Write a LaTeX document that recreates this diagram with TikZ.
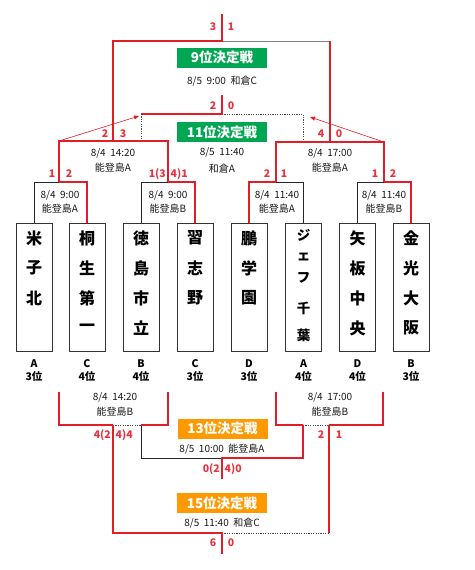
\documentclass[tikz,border=0pt]{standalone}
\usepackage{fontspec}
\setmainfont{Noto Sans CJK JP}
\usetikzlibrary{arrows.meta}
\definecolor{bred}{RGB}{225,30,40}
\definecolor{tred}{RGB}{232,50,62}
\definecolor{bgreen}{RGB}{0,166,81}
\definecolor{borange}{RGB}{255,153,0}
\begin{document}
\begin{tikzpicture}[x=1pt,y=-1pt,
  win/.style={draw=bred,line width=1.5pt,line join=miter},
  lose/.style={draw=black!85,line width=0.7pt},
  thin/.style={draw=black!50,line width=0.7pt},
  dots/.style={draw=black!70,line width=0.7pt,dash pattern=on 1.2pt off 1.2pt},
  adv/.style={draw=bred,line width=0.6pt,-{Triangle[length=5pt,width=4pt]}},
  team/.style={draw=black!80,line width=0.8pt,minimum width=36pt,minimum height=128pt,inner sep=0pt},
  tch/.style={font=\fontsize{16}{16}\selectfont\bfseries,inner sep=0pt},
  tchs/.style={font=\fontsize{13.5}{14}\selectfont\bfseries,inner sep=0pt},
  info/.style={font=\fontsize{10}{14.5}\selectfont,align=center,inner sep=0pt,text=black!90},
  score/.style={font=\fontsize{10.5}{12}\selectfont\bfseries,text=tred,inner sep=0pt},
  title/.style={minimum width=90pt,minimum height=20pt,inner sep=0pt,text=white,font=\fontsize{13.5}{14}\selectfont\bfseries},
  grp/.style={font=\fontsize{10.5}{13}\selectfont\bfseries,align=center,inner sep=0pt}
]
\useasboundingbox[fill=white] (0,0) rectangle (474,570);

% team boxes
\node[team] (T1) at (34,287) {};
\node[team] (T2) at (87,287) {};
\node[team] (T3) at (141,287) {};
\node[team] (T4) at (195,287) {};
\node[team] (T5) at (249,287) {};
\node[team] (T6) at (303.5,287) {};
\node[team] (T7) at (357.5,287) {};
\node[team] (T8) at (411,287) {};

\foreach \ch [count=\k] in {米,子,北} \node[tch] (c1\k) at (34,208+30*\k) {\ch};
\foreach \ch [count=\k] in {桐,生,第,一} \node[tch] (c2\k) at (87,208+30*\k) {\ch};
\foreach \ch [count=\k] in {徳,島,市,立} \node[tch] (c3\k) at (141,208+30*\k) {\ch};
\foreach \ch [count=\k] in {習,志,野} \node[tch] (c4\k) at (195,208+30*\k) {\ch};
\foreach \ch [count=\k] in {鵬,学,園} \node[tch] (c5\k) at (249,208+30*\k) {\ch};
\node[tchs] (c61) at (303.5,235) {ジ};
\node[tchs] (c62) at (303.5,257) {ェ};
\node[tchs] (c63) at (303.5,278) {フ};
\node[tchs] (c64) at (303.5,308) {千};
\node[tchs] (c65) at (303.5,335) {葉};
\foreach \ch [count=\k] in {矢,板,中,央} \node[tch] (c7\k) at (357.5,208+30*\k) {\ch};
\foreach \ch [count=\k] in {金,光,大,阪} \node[tch] (c8\k) at (411,208+30*\k) {\ch};

% group labels
\node[grp] (g1) at (34,370.5) {A\\3位};
\node[grp] (g2) at (87,370.5) {C\\4位};
\node[grp] (g3) at (141,370.5) {B\\4位};
\node[grp] (g4) at (195,370.5) {C\\3位};
\node[grp] (g5) at (249,370.5) {D\\3位};
\node[grp] (g6) at (303.5,370.5) {A\\4位};
\node[grp] (g7) at (357.5,370.5) {D\\4位};
\node[grp] (g8) at (411,370.5) {B\\3位};

% coordinates upper
\coordinate (t0) at (222,14);
\coordinate (t1) at (222,41);
\coordinate (tL) at (113,41);
\coordinate (tR) at (330,41);
\coordinate (e0) at (222,95);
\coordinate (e1) at (222,114);
\coordinate (eL) at (141,114);
\coordinate (eR) at (303,114);
\coordinate (eLb) at (141,141);
\coordinate (eRb) at (303,142);
\coordinate (s2L) at (59,141);
\coordinate (s2c) at (113,141);
\coordinate (s2R) at (168,141);
\coordinate (s3L) at (276,142);
\coordinate (s3c) at (330,142);
\coordinate (s3R) at (384,142);
\coordinate (f1a) at (34,182);
\coordinate (f1c) at (59,182);
\coordinate (f1b) at (87,182);
\coordinate (f2a) at (141,182);
\coordinate (f2c) at (168,182);
\coordinate (f2b) at (195,182);
\coordinate (f3a) at (249,182);
\coordinate (f3c) at (276,182);
\coordinate (f3b) at (303.5,182);
\coordinate (f4a) at (357.5,182);
\coordinate (f4c) at (384,182);
\coordinate (f4b) at (411,182);
\coordinate (a1) at (139,116);
\coordinate (a2) at (310,117);

% lines upper
\draw[thin] (t1) -- (tR);
\draw[dots] (e1) -- (eR) -- (eRb);
\draw[dots] (eL) -- (eLb);
\draw[lose] (T1.north) -- (f1a) -- (f1c);
\draw[lose] (T3.north) -- (f2a) -- (f2c);
\draw[lose] (f3c) -- (f3b) -- (T6.north);
\draw[lose] (T7.north) -- (f4a) -- (f4c);
\draw[win] (t0) -- (t1) -- (tL) -- (s2c);
\draw[win] (tR) -- (s3c);
\draw[win] (e0) -- (e1) -- (eL);
\draw[win] (f1c) -- (s2L) -- (s2R) -- (f2c);
\draw[win] (f3c) -- (s3L) -- (s3R) -- (f4c);
\draw[win] (f1c) -- (f1b) -- (T2.north);
\draw[win] (f2c) -- (f2b) -- (T4.north);
\draw[win] (T5.north) -- (f3a) -- (f3c);
\draw[win] (f4c) -- (f4b) -- (T8.north);
\draw[adv] (s2L) -- (a1);
\draw[adv] (s3R) -- (a2);

% coordinates lower
\coordinate (u1) at (59,392);
\coordinate (u1b) at (59,425);
\coordinate (uc) at (113,425);
\coordinate (ud) at (141,425);
\coordinate (u2b) at (168,425);
\coordinate (u2) at (168,392);
\coordinate (v1) at (276,392);
\coordinate (v1b) at (276,425);
\coordinate (vd) at (303,425);
\coordinate (vc) at (329,425);
\coordinate (v2b) at (383,425);
\coordinate (v2) at (383,392);
\coordinate (m1) at (141,458);
\coordinate (mc) at (222,458);
\coordinate (m2) at (303,458);
\coordinate (m0) at (222,479);
\coordinate (w1) at (113,533);
\coordinate (wc) at (222,533);
\coordinate (w2) at (329,533);
\coordinate (w0) at (222,554);

% lines lower
\draw[dots] (uc) -- (ud);
\draw[dots] (vd) -- (vc);
\draw[dots] (wc) -- (w2);
\draw[lose] (ud) -- (m1) -- (mc);
\draw[win] (u1) -- (u1b) -- (uc);
\draw[win] (ud) -- (u2b) -- (u2);
\draw[win] (v1) -- (v1b) -- (vd);
\draw[win] (vc) -- (v2b) -- (v2);
\draw[win] (m0) -- (mc) -- (m2) -- (vd);
\draw[win] (uc) -- (w1) -- (wc) -- (w0);
\draw[win] (vc) -- (w2);

% titles
\node[title,fill=bgreen] (h9) at (222,57.5) {9位決定戦};
\node[title,fill=bgreen] (h11) at (222,132) {11位決定戦};
\node[title,fill=borange] (h13) at (222.5,428.5) {13位決定戦};
\node[title,fill=borange] (h15) at (222,503) {15位決定戦};

% info texts
\node[info] (i9) at (222,81) {8/5\ \ 9:00\ \ 和倉C};
\node[info] (i11a) at (222,152) {8/5\ \ 11:40};
\node[info] (i11b) at (222,169) {和倉A};
\node[info] (i13) at (222,449) {8/5\ \ 10:00\ \ 能登島A};
\node[info] (i15) at (222,523) {8/5\ \ 11:40\ \ 和倉C};
\node[info] (m21) at (113,160.5) {8/4\ \ 14:20\\能登島A};
\node[info] (m22) at (330,160.5) {8/4\ \ 17:00\\能登島A};
\node[info] (m11) at (60,202) {8/4\ \ 9:00\\能登島A};
\node[info] (m12) at (168,202) {8/4\ \ 9:00\\能登島B};
\node[info] (m13) at (277,202) {8/4\ \ 11:40\\能登島A};
\node[info] (m14) at (384,202) {8/4\ \ 11:40\\能登島B};
\node[info] (m31) at (115,404.5) {8/4\ \ 14:20\\能登島B};
\node[info] (m32) at (330,404.5) {8/4\ \ 17:00\\能登島B};

% scores
\node[score] (s9a) at (213,27) {3};
\node[score] (s9b) at (231,27) {1};
\node[score] (s11a) at (213,106) {2};
\node[score] (s11b) at (231,106) {0};
\node[score] (s21a) at (105,134) {2};
\node[score] (s21b) at (123,134) {3};
\node[score] (s22a) at (321,134) {4};
\node[score] (s22b) at (339,134) {0};
\node[score] (s11x) at (52,174) {1};
\node[score] (s11y) at (69,174) {2};
\node[score,anchor=east] (s12x) at (166,174) {1(3};
\node[score,anchor=west] (s12y) at (170.5,174) {4)1};
\node[score] (s13x) at (267,174) {2};
\node[score] (s13y) at (284,174) {1};
\node[score] (s14x) at (375,174) {1};
\node[score] (s14y) at (393,174) {2};
\node[score,anchor=east] (s31x) at (111,435) {4(2};
\node[score,anchor=west] (s31y) at (115.5,435) {4)4};
\node[score] (s32x) at (321,435) {2};
\node[score] (s32y) at (339,435) {1};
\node[score,anchor=east] (s13a) at (220,469) {0(2};
\node[score,anchor=west] (s13b) at (224.5,469) {4)0};
\node[score] (s15a) at (213,543) {6};
\node[score] (s15b) at (231,543) {0};
\end{tikzpicture}
\end{document}
